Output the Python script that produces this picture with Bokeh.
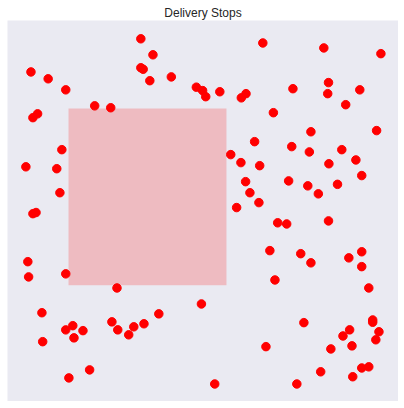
from bokeh.plotting import figure
from bokeh.models import Range1d
from bokeh.embed import file_html
from bokeh.resources import INLINE

# delivery stop positions (0-100 grid)
stop_x = [34.1, 37.2, 34.1, 34.7, 36.4, 41.9, 48.3, 49.9, 50.7, 6.0,
          10.4, 14.9, 22.3, 26.4, 6.5, 7.7, 13.9, 4.7, 12.6, 13.4,
          65.3, 80.9, 95.5, 82.1, 81.9, 73.0, 90.1, 54.3, 59.8, 61.0,
          86.5, 68.0, 77.6, 94.4, 63.2, 72.7, 77.2, 85.5, 57.1, 59.7,
          64.5, 82.2, 89.1, 90.6, 60.9, 71.9, 76.8, 84.4, 62.0, 79.5,
          64.3, 58.6, 6.5, 7.3, 5.2, 5.4, 14.9, 28.0, 49.6, 8.8,
          14.9, 16.7, 17.0, 19.3, 9.0, 26.7, 28.2, 31.0, 32.3, 34.9,
          38.7, 15.7, 21.0, 69.1, 71.4, 82.1, 67.1, 75.0, 77.6, 87.3,
          90.6, 90.6, 68.4, 92.4, 75.8, 93.4, 93.4, 95.0, 94.2, 87.5,
          85.8, 88.1, 82.7, 66.1, 80.1, 90.6, 92.4, 88.3, 53.0, 74.0]
stop_y = [95.2, 91.0, 87.6, 87.2, 84.2, 85.2, 82.5, 81.6, 80.0, 86.5,
          84.7, 81.8, 77.6, 77.1, 74.5, 75.5, 66.1, 61.6, 61.1, 54.8,
          94.1, 92.8, 91.3, 83.7, 80.8, 82.1, 81.8, 81.3, 79.7, 80.8,
          77.9, 75.8, 70.8, 71.1, 68.2, 66.9, 65.5, 66.1, 64.8, 62.7,
          61.9, 62.4, 63.4, 59.3, 57.7, 57.9, 56.6, 57.0, 54.8, 54.5,
          52.2, 50.9, 49.3, 49.6, 36.7, 32.7, 33.5, 29.8, 25.6, 23.3,
          18.8, 19.9, 16.7, 18.6, 15.7, 20.9, 18.8, 17.5, 19.6, 20.4,
          23.0, 6.2, 8.3, 46.9, 46.6, 47.4, 39.6, 38.8, 36.4, 37.7,
          39.3, 35.4, 31.9, 29.8, 20.7, 21.4, 20.8, 18.3, 16.2, 18.8,
          17.2, 14.6, 13.8, 14.4, 7.8, 8.8, 9.1, 6.5, 4.6, 4.6]

# shaded zone
zone_left, zone_right = 15.6, 56.0
zone_bottom, zone_top = 30.5, 76.9

p = figure(width=398, height=401, title="Delivery Stops",
           x_range=Range1d(0, 100), y_range=Range1d(0, 100),
           output_backend="svg", toolbar_location=None,
           min_border_left=7, min_border_right=0,
           min_border_bottom=0, min_border_top=20)
p.title.align = "center"
p.title.text_font = "Liberation Sans"
p.title.text_font_size = "12px"
p.title.text_font_style = "normal"
p.title.text_color = "#262626"
p.title.standoff = 2
p.title.offset = 0
p.axis.visible = False
p.grid.visible = False
p.outline_line_color = None
p.background_fill_color = "#EAEAF2"
p.border_fill_color = "white"

p.quad(left=[zone_left], right=[zone_right], bottom=[zone_bottom], top=[zone_top],
       fill_color="red", fill_alpha=0.2, line_color=None)
p.scatter(stop_x, stop_y, size=8.5, fill_color="red", line_color="red")

open("out.html", "w").write(file_html(p, INLINE))
